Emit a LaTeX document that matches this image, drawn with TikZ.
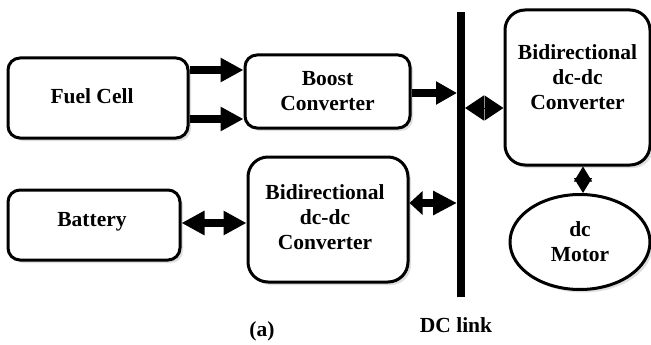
\documentclass[tikz,border=0pt]{standalone}
\usepackage{fontspec}
\setmainfont{Liberation Serif}
\usetikzlibrary{arrows.meta,shapes.geometric,shadows}
\tikzset{
  tri/.tip={Triangle[length=23pt,width=23pt]},
  smalltri/.tip={Triangle[length=13pt,width=23pt]},
  longtri/.tip={Triangle[length=24pt,width=23pt]},
  midtri/.tip={Triangle[length=21pt,width=22pt]},
  dia/.tip={Triangle[length=19pt,width=25pt]},
  vdia/.tip={Triangle[length=15pt,width=18pt]}
}
\begin{document}
\begin{tikzpicture}[x=1pt,y=-1pt,
  every node/.style={font=\fontsize{21.5}{25}\selectfont\bfseries, align=center},
  box/.style={draw, line width=3pt, fill=white, inner sep=0pt,
     drop shadow={shadow xshift=3pt, shadow yshift=-3pt, opacity=0.25}},
  txt/.style={inner sep=0pt},
  fat/.style={line width=8pt}
]
\useasboundingbox (0,0) rectangle (651,345);
% blocks
\node[box, rounded corners=12pt, minimum width=180pt, minimum height=80pt] (fc) at (98,98) {};
\node[txt] (fct) at (92,96) {Fuel Cell};
\node[box, rounded corners=12pt, minimum width=165pt, minimum height=73pt] (boost) at (327.5,91.5) {Boost\\Converter};
\node[box, rounded corners=12pt, minimum width=172pt, minimum height=70pt] (bat) at (94,225) {};
\node[txt] (batt) at (92,222) {Battery};
\node[box, rounded corners=20pt, minimum width=160pt, minimum height=125pt] (bd) at (328,219.5) {};
\node[txt] (bdt) at (325,217) {Bidirectional\\dc-dc\\Converter};
\node[box, rounded corners=20pt, minimum width=145pt, minimum height=155pt] (br) at (577.5,87.5) {};
\node[txt] (brt) at (577.5,77.5) {Bidirectional\\dc-dc\\Converter};
\node[box, ellipse, minimum width=140pt, minimum height=95pt] (mot) at (580,242) {};
\node[txt] (mott) at (580,242) {dc\\Motor};
% DC link bar
\node[fill=black, inner sep=0pt, outer sep=0pt, minimum width=8pt, minimum height=285pt] (dc) at (461,154.5) {};
% labels
\node[txt] (dcl) at (456,325) {DC link};
\node[txt] (lbla) at (262,331) {(a)};
% connectors
\draw[fat, -tri] (fc.east |- 0,70) -- (boost.west |- 0,70);
\draw[fat, -tri] (fc.east |- 0,119) -- (boost.west |- 0,119);
\draw[fat, -midtri] (boost.east |- 0,93) -- (dc.west |- 0,93);
\draw[fat, tri-tri] (bat.east |- 0,223) -- (bd.west |- 0,223);
\draw[fat, smalltri-longtri] (bd.east |- 0,203) -- (dc.west |- 0,203);
\draw[line width=1pt, dia-dia] (dc.east |- 0,108) -- (br.west |- 0,108);
\draw[line width=1pt, vdia-vdia] (br.south -| 583,0) -- (mot.north -| 583,0);
\end{tikzpicture}
\end{document}
